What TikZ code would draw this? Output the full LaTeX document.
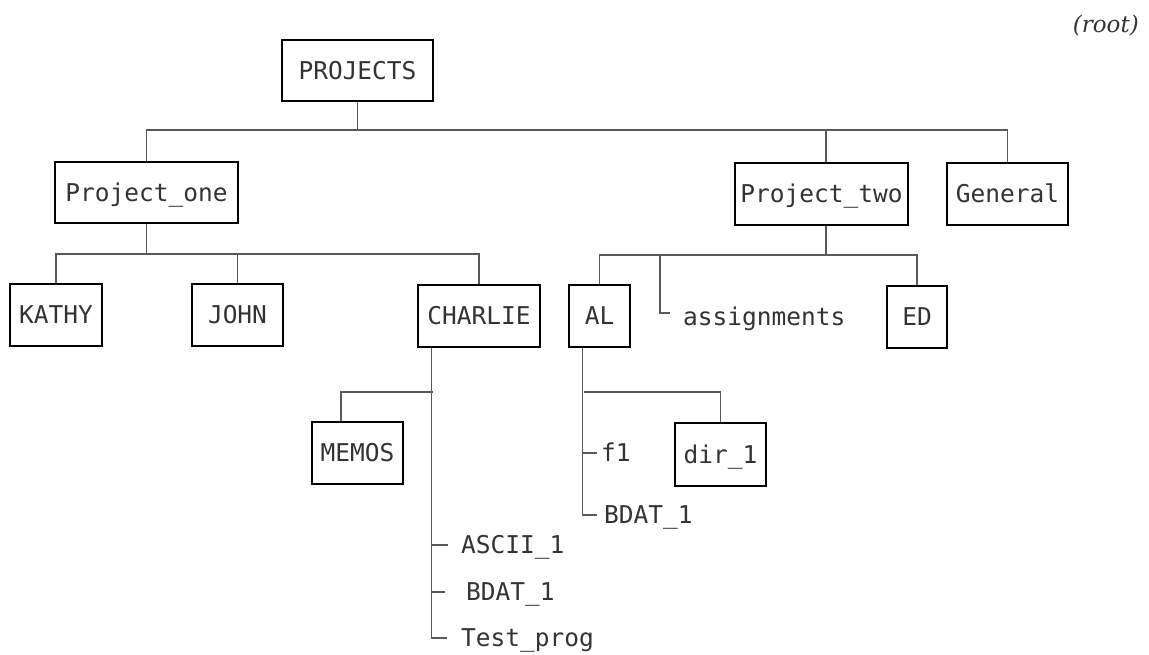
\documentclass[tikz,border=0pt]{standalone}
\usepackage{fontspec}
\newfontfamily\plotfont{DejaVu Sans Mono}
\newfontfamily\rootfont{DejaVu Serif}
\begin{document}
\begin{tikzpicture}[x=1pt,y=-1pt,
  box/.style={draw=black, line width=2.5pt, inner sep=0pt,
    font=\plotfont\fontsize{24.5}{24.5}\selectfont, text=black!80,
    text height=17.9pt, text depth=0pt},
  conn/.style={draw=black!65, line width=1.1pt},
  leaf/.style={anchor=west, inner xsep=13pt, inner ysep=0pt,
    text height=17.9pt, text depth=0pt,
    font=\plotfont\fontsize{24.5}{24.5}\selectfont, text=black!80},
  lowleaf/.style={leaf, text height=24pt}]
\useasboundingbox (0,0) rectangle (1149,655);

% title
\node[font=\rootfont\itshape\fontsize{23}{23}\selectfont, text=black!80,
  anchor=east, inner sep=0pt] (root) at (1139,26) {(root)};

% boxes
\node[box, minimum width=151pt, minimum height=61pt] (projects) at (357.5,70.5) {PROJECTS};
\node[box, minimum width=183pt, minimum height=61pt] (p1) at (146.5,192.5) {Project\_one};
\node[box, minimum width=173pt, minimum height=62pt] (p2) at (821.5,194) {Project\_two};
\node[box, minimum width=121pt, minimum height=62pt] (general) at (1007.5,194) {General};
\node[box, minimum width=92pt, minimum height=62pt] (kathy) at (56,315) {KATHY};
\node[box, minimum width=91pt, minimum height=62pt] (john) at (237.5,315) {JOHN};
\node[box, minimum width=122pt, minimum height=62pt] (charlie) at (479,316) {CHARLIE};
\node[box, minimum width=61pt, minimum height=62pt] (al) at (599.5,316) {AL};
\node[box, minimum width=60pt, minimum height=62pt] (ed) at (917,317) {ED};
\node[box, minimum width=91pt, minimum height=62pt] (memos) at (357.5,453) {MEMOS};
\node[box, minimum width=91pt, minimum height=63pt] (dir) at (720.5,454.5) {dir\_1};

% leaves
\node[lowleaf] (assign) at (670,313) {assignments};
\node[leaf] (ascii) at (448,545) {ASCII\_1};
\node[leaf, inner xsep=21pt] (bdat) at (445,592) {BDAT\_1};
\node[leaf, inner xsep=14pt] (test) at (447,638) {Test\_prog};
\node[leaf, inner xsep=4pt] (f1) at (597,453) {f1};
\node[leaf, inner xsep=7pt] (bdat2) at (597,515) {BDAT\_1};

% level 0
\coordinate (b0) at (357.5,130);
\draw[conn] (projects.south) -- (b0);
\draw[conn] (p1.north) |- (b0) -| (general.north);
\draw[conn] ([xshift=4.5pt]p2.north) -- ([xshift=4.5pt]p2.north |- b0);

% Project_one children
\coordinate (b1) at (146.5,254);
\draw[conn] (p1.south) -- (b1);
\draw[conn] (kathy.north) |- (b1) -| (charlie.north);
\draw[conn] (john.north) -- (john.north |- b1);

% Project_two children
\coordinate (b2) at (826,255);
\coordinate (av) at (660,255);
\draw[conn] ([xshift=4.5pt]p2.south) -- (b2);
\draw[conn] (al.north) |- (b2) -| (ed.north);
\draw[conn] (av) |- (assign.west);

% CHARLIE children
\coordinate (cv) at ([xshift=15pt]charlie.south west);
\coordinate (cm) at (433,392);
\draw[conn] (cv) |- (test.west);
\draw[conn] (cv |- ascii.west) -- (ascii.west);
\draw[conn] (cv |- bdat.west) -- (bdat.west);
\draw[conn] (cm) -| ([xshift=-16.5pt]memos.north);

% AL children
\coordinate (alv) at ([xshift=15pt]al.south west);
\coordinate (alm) at (584,392);
\draw[conn] (alv) |- (bdat2.west);
\draw[conn] (alm) -| (dir.north);
\draw[conn] (alv |- f1.west) -- (f1.west);
\end{tikzpicture}
\end{document}
